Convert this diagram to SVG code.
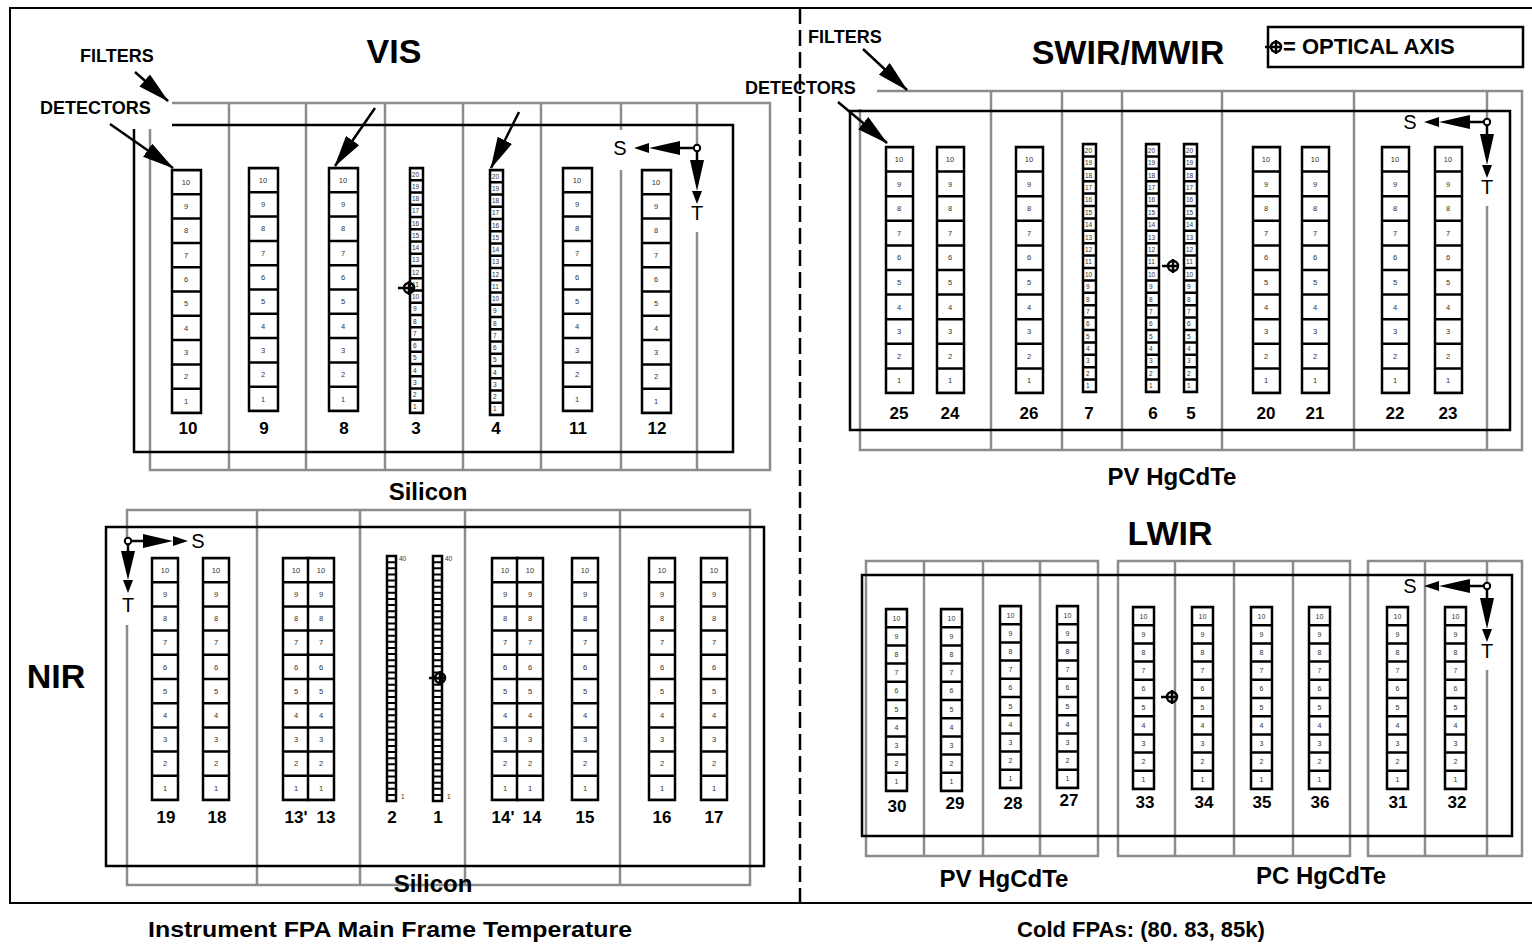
<svg xmlns="http://www.w3.org/2000/svg" xmlns:xlink="http://www.w3.org/1999/xlink" width="1532" height="944" viewBox="0 0 1532 944">
<style>
text{font-family:"Liberation Sans",Arial,sans-serif}
.g{stroke:#8c8c8c;stroke-width:2.5;fill:none}
.k{stroke:#000;stroke-width:2.5;fill:none}
.c{fill:#fff;stroke:#000;stroke-width:2.5}
.n{font-size:7.5px;fill:#333;text-anchor:middle}
.ns{font-size:6.5px;fill:#333}
.t{font-size:34px;font-weight:bold;text-anchor:middle}
.lbl{font-size:18px;font-weight:bold}
.sub{font-size:24px;font-weight:bold;text-anchor:middle}
.num{font-size:17px;font-weight:bold;text-anchor:middle}
.st{font-size:20px;text-anchor:middle}
.bt{font-size:22px;font-weight:bold;text-anchor:middle}
.ar{stroke:#000;stroke-width:2.5;fill:none;marker-end:url(#ah)}
</style>
<defs>
<marker id="ah" markerUnits="userSpaceOnUse" markerWidth="32" markerHeight="16" viewBox="0 0 32 16" refX="31" refY="8" orient="auto"><path d="M0,0L32,8L0,16z" fill="#000"/></marker>
<g id="oa"><circle r="5" fill="none" stroke="#000" stroke-width="2.5"/><path d="M-11,0H5M0,-7V7" stroke="#000" stroke-width="2.5"/></g>
<g id="v10"><rect class="c" width="29" height="243"/><line x1="14.5" y1="0" x2="14.5" y2="243" stroke="#000" stroke-width="29" stroke-dasharray="2.5 21.8" stroke-dashoffset="1.25"/>
<text class="n" x="14" y="14.85">10<tspan x="14" dy="24.3">9</tspan><tspan x="14" dy="24.3">8</tspan><tspan x="14" dy="24.3">7</tspan><tspan x="14" dy="24.3">6</tspan><tspan x="14" dy="24.3">5</tspan><tspan x="14" dy="24.3">4</tspan><tspan x="14" dy="24.3">3</tspan><tspan x="14" dy="24.3">2</tspan><tspan x="14" dy="24.3">1</tspan></text></g>
<g id="v20"><rect class="c" width="13" height="245"/><line x1="6.5" y1="0" x2="6.5" y2="245" stroke="#000" stroke-width="13" stroke-dasharray="2.5 9.75" stroke-dashoffset="1.25"/>
<text class="ns" x="1.8" y="8.6">20<tspan x="2" dy="12.25">19</tspan><tspan x="2" dy="12.25">18</tspan><tspan x="2" dy="12.25">17</tspan><tspan x="2" dy="12.25">16</tspan><tspan x="2" dy="12.25">15</tspan><tspan x="2" dy="12.25">14</tspan><tspan x="2" dy="12.25">13</tspan><tspan x="2" dy="12.25">12</tspan><tspan x="2" dy="12.25">11</tspan><tspan x="2" dy="12.25">10</tspan><tspan x="3" dy="12.25">9</tspan><tspan x="3" dy="12.25">8</tspan><tspan x="3" dy="12.25">7</tspan><tspan x="3" dy="12.25">6</tspan><tspan x="3" dy="12.25">5</tspan><tspan x="3" dy="12.25">4</tspan><tspan x="3" dy="12.25">3</tspan><tspan x="3" dy="12.25">2</tspan><tspan x="3" dy="12.25">1</tspan></text></g>
<g id="s10"><rect class="c" width="27" height="246"/><line x1="13.5" y1="0" x2="13.5" y2="246" stroke="#000" stroke-width="27" stroke-dasharray="2.5 22.1" stroke-dashoffset="1.25"/>
<text class="n" x="13" y="15">10<tspan x="13" dy="24.6">9</tspan><tspan x="13" dy="24.6">8</tspan><tspan x="13" dy="24.6">7</tspan><tspan x="13" dy="24.6">6</tspan><tspan x="13" dy="24.6">5</tspan><tspan x="13" dy="24.6">4</tspan><tspan x="13" dy="24.6">3</tspan><tspan x="13" dy="24.6">2</tspan><tspan x="13" dy="24.6">1</tspan></text></g>
<g id="s20"><rect class="c" width="13" height="248"/><line x1="6.5" y1="0" x2="6.5" y2="248" stroke="#000" stroke-width="13" stroke-dasharray="2.5 9.9" stroke-dashoffset="1.25"/>
<text class="ns" x="1.8" y="8.7">20<tspan x="2" dy="12.4">19</tspan><tspan x="2" dy="12.4">18</tspan><tspan x="2" dy="12.4">17</tspan><tspan x="2" dy="12.4">16</tspan><tspan x="2" dy="12.4">15</tspan><tspan x="2" dy="12.4">14</tspan><tspan x="2" dy="12.4">13</tspan><tspan x="2" dy="12.4">12</tspan><tspan x="2" dy="12.4">11</tspan><tspan x="2" dy="12.4">10</tspan><tspan x="3" dy="12.4">9</tspan><tspan x="3" dy="12.4">8</tspan><tspan x="3" dy="12.4">7</tspan><tspan x="3" dy="12.4">6</tspan><tspan x="3" dy="12.4">5</tspan><tspan x="3" dy="12.4">4</tspan><tspan x="3" dy="12.4">3</tspan><tspan x="3" dy="12.4">2</tspan><tspan x="3" dy="12.4">1</tspan></text></g>
<g id="n10"><rect class="c" width="26" height="242"/><line x1="13" y1="0" x2="13" y2="242" stroke="#000" stroke-width="26" stroke-dasharray="2.5 21.7" stroke-dashoffset="1.25"/>
<text class="n" x="13" y="14.8">10<tspan x="13" dy="24.2">9</tspan><tspan x="13" dy="24.2">8</tspan><tspan x="13" dy="24.2">7</tspan><tspan x="13" dy="24.2">6</tspan><tspan x="13" dy="24.2">5</tspan><tspan x="13" dy="24.2">4</tspan><tspan x="13" dy="24.2">3</tspan><tspan x="13" dy="24.2">2</tspan><tspan x="13" dy="24.2">1</tspan></text></g>
<g id="n40"><rect class="c" width="9" height="245"/><line x1="4.5" y1="0" x2="4.5" y2="245" stroke="#000" stroke-width="9" stroke-dasharray="2 4.125" stroke-dashoffset="1"/></g>
<g id="l10"><rect class="c" width="21" height="182"/><line x1="10.5" y1="0" x2="10.5" y2="182" stroke="#000" stroke-width="21" stroke-dasharray="2.5 15.7" stroke-dashoffset="1.25"/>
<text class="n" style="font-size:7px" x="10.5" y="11.6">10<tspan x="10.5" dy="18.2">9</tspan><tspan x="10.5" dy="18.2">8</tspan><tspan x="10.5" dy="18.2">7</tspan><tspan x="10.5" dy="18.2">6</tspan><tspan x="10.5" dy="18.2">5</tspan><tspan x="10.5" dy="18.2">4</tspan><tspan x="10.5" dy="18.2">3</tspan><tspan x="10.5" dy="18.2">2</tspan><tspan x="10.5" dy="18.2">1</tspan></text></g>
<g id="stL"><path d="M-3,0H-17M0,3V12" stroke="#000" stroke-width="2.5"/><polygon points="-17,-7 -48,0 -17,7"/><polygon points="-48,-5 -63,0 -48,5"/><polygon points="-7,12 0,43 7,12"/><polygon points="-5,43 0,56 5,43"/><circle r="3.2" fill="#fff" stroke="#000" stroke-width="2"/><text class="st" x="-77" y="7">S</text><text class="st" x="0" y="72">T</text></g>
<g id="stR"><path d="M3,0H15M0,3V10" stroke="#000" stroke-width="2.5"/><polygon points="15,-7 45,0 15,7"/><polygon points="45,-5 60,0 45,5"/><polygon points="-7,10 0,39 7,10"/><polygon points="-5,39 0,52 5,39"/><circle r="3.2" fill="#fff" stroke="#000" stroke-width="2"/><text class="st" x="70" y="7">S</text><text class="st" x="0" y="71">T</text></g>
</defs>
<rect width="1532" height="944" fill="#fff"/>
<g id="frame">
<path d="M1532,8H10V903H1532" stroke="#000" stroke-width="2" fill="none"/>
<line x1="800" y1="8" x2="800" y2="903" stroke="#000" stroke-width="2.5" stroke-dasharray="16 6"/>
</g>
<g id="vis">
<path class="g" d="M172,103H770V470H150V129M229,103V470M306,103V470M385,103V470M463,103V470M541,103V470M621,103V130M621,170V470M697,103V145M697,232V470"/>
<path class="k" d="M172,125H733V452H134V129"/>
<use xlink:href="#v10" x="172" y="170"/><use xlink:href="#v10" x="249" y="168"/><use xlink:href="#v10" x="329" y="168"/><use xlink:href="#v10" x="563" y="168"/><use xlink:href="#v10" x="642" y="170"/>
<use xlink:href="#v20" x="410" y="168"/><use xlink:href="#v20" x="490" y="170"/>
<use xlink:href="#oa" x="409" y="288"/>
<use xlink:href="#stL" x="697" y="148"/>
<text class="num" y="434"><tspan x="188">10</tspan><tspan x="264">9</tspan><tspan x="344">8</tspan><tspan x="416">3</tspan><tspan x="496">4</tspan><tspan x="578">11</tspan><tspan x="657">12</tspan></text>
<text class="t" x="394" y="63">VIS</text>
<text class="sub" x="428" y="500">Silicon</text>
<text class="lbl" x="80" y="62">FILTERS</text>
<text class="lbl" x="40" y="114">DETECTORS</text>
</g>
<g id="nir">
<path class="g" d="M127,538V510H750V885H127V625M257,510V885M360,510V885M465,510V885M620,510V885"/>
<rect class="k" x="106" y="527" width="658" height="339"/>
<use xlink:href="#n10" x="152" y="558"/><use xlink:href="#n10" x="203" y="558"/><use xlink:href="#n10" x="283" y="558"/><use xlink:href="#n10" x="308" y="558"/><use xlink:href="#n10" x="492" y="558"/><use xlink:href="#n10" x="517" y="558"/><use xlink:href="#n10" x="572" y="558"/><use xlink:href="#n10" x="649" y="558"/><use xlink:href="#n10" x="701" y="558"/>
<use xlink:href="#n40" x="387" y="556"/><use xlink:href="#n40" x="433" y="556"/>
<text class="ns" x="399" y="561">40</text><text class="ns" x="445" y="561">40</text><text class="ns" x="401" y="799">1</text><text class="ns" x="447" y="799">1</text>
<use xlink:href="#oa" x="440" y="678"/>
<use xlink:href="#stR" x="128" y="541"/>
<text class="num" y="823"><tspan x="166">19</tspan><tspan x="217">18</tspan><tspan x="296">13'</tspan><tspan x="326">13</tspan><tspan x="392">2</tspan><tspan x="438">1</tspan><tspan x="503">14'</tspan><tspan x="532">14</tspan><tspan x="585">15</tspan><tspan x="662">16</tspan><tspan x="714">17</tspan></text>
<text class="t" x="56" y="688">NIR</text>
<text class="sub" x="433" y="892">Silicon</text>
</g>
<g id="swir">
<path class="g" d="M877,91H1522V450H860V109M991,91V450M1062,91V450M1122,91V450M1222,91V450M1354,91V450M1487,91V119M1487,206V450"/>
<rect class="k" x="850" y="111" width="660" height="319"/>
<use xlink:href="#s10" x="886" y="147"/><use xlink:href="#s10" x="937" y="147"/><use xlink:href="#s10" x="1016" y="147"/><use xlink:href="#s10" x="1253" y="147"/><use xlink:href="#s10" x="1302" y="147"/><use xlink:href="#s10" x="1382" y="147"/><use xlink:href="#s10" x="1435" y="147"/>
<use xlink:href="#s20" x="1083" y="144"/><use xlink:href="#s20" x="1146" y="144"/><use xlink:href="#s20" x="1184" y="144"/>
<use xlink:href="#oa" x="1173" y="266"/>
<use xlink:href="#stL" x="1487" y="122"/>
<text class="num" y="419"><tspan x="899">25</tspan><tspan x="950">24</tspan><tspan x="1029">26</tspan><tspan x="1089">7</tspan><tspan x="1153">6</tspan><tspan x="1191">5</tspan><tspan x="1266">20</tspan><tspan x="1315">21</tspan><tspan x="1395">22</tspan><tspan x="1448">23</tspan></text>
<text class="t" x="1128" y="64">SWIR/MWIR</text>
<text class="sub" x="1172" y="485">PV HgCdTe</text>
<text class="lbl" x="808" y="43">FILTERS</text>
<text class="lbl" x="745" y="94">DETECTORS</text>
</g>
<g id="lwir">
<path class="g" d="M866,561H1098V856H866ZM924,561V856M983,561V856M1040,561V856M1118,561H1350V856H1118ZM1175,561V856M1234,561V856M1293,561V856M1487,583V561H1368V856H1522V561H1487M1425,561V856M1487,670V856"/>
<rect class="k" x="862" y="575" width="650" height="261"/>
<use xlink:href="#l10" x="886" y="609"/><use xlink:href="#l10" x="941" y="609"/><use xlink:href="#l10" x="1000" y="606"/><use xlink:href="#l10" x="1057" y="606"/><use xlink:href="#l10" x="1133" y="607"/><use xlink:href="#l10" x="1192" y="607"/><use xlink:href="#l10" x="1251" y="607"/><use xlink:href="#l10" x="1309" y="607"/><use xlink:href="#l10" x="1387" y="607"/><use xlink:href="#l10" x="1445" y="607"/>
<use xlink:href="#oa" x="1172" y="697"/>
<use xlink:href="#stL" x="1487" y="586"/>
<text class="num" y="808"><tspan x="897" y="812">30</tspan><tspan x="955" y="809">29</tspan><tspan x="1013" y="809">28</tspan><tspan x="1069" y="806">27</tspan><tspan x="1145" y="808">33</tspan><tspan x="1204">34</tspan><tspan x="1262">35</tspan><tspan x="1320">36</tspan><tspan x="1398">31</tspan><tspan x="1457">32</tspan></text>
<text class="t" x="1170" y="545">LWIR</text>
<text class="sub" x="1004" y="887">PV HgCdTe</text>
<text class="sub" x="1321" y="884">PC HgCdTe</text>
</g>
<g id="legend">
<rect x="1268" y="27" width="255" height="40" fill="#fff" stroke="#000" stroke-width="2.5"/>
<use xlink:href="#oa" x="1276" y="47"/>
<text x="1283" y="54" style="font-size:22px;font-weight:bold">= OPTICAL AXIS</text>
</g>
<g id="connectors">
<path class="ar" d="M135,72L168,101"/>
<path class="ar" d="M110,124L173,168"/>
<path class="ar" d="M375,108L335,166"/>
<path class="ar" d="M519,112L491,168"/>
<path class="ar" d="M863,49L907,90"/>
<path class="ar" d="M838,102L887,143"/>
</g>
<g id="footer">
<text class="bt" x="390" y="937" textLength="484" lengthAdjust="spacingAndGlyphs">Instrument FPA Main Frame Temperature</text>
<text class="bt" x="1141" y="937">Cold FPAs: (80. 83, 85k)</text>
</g>
</svg>
